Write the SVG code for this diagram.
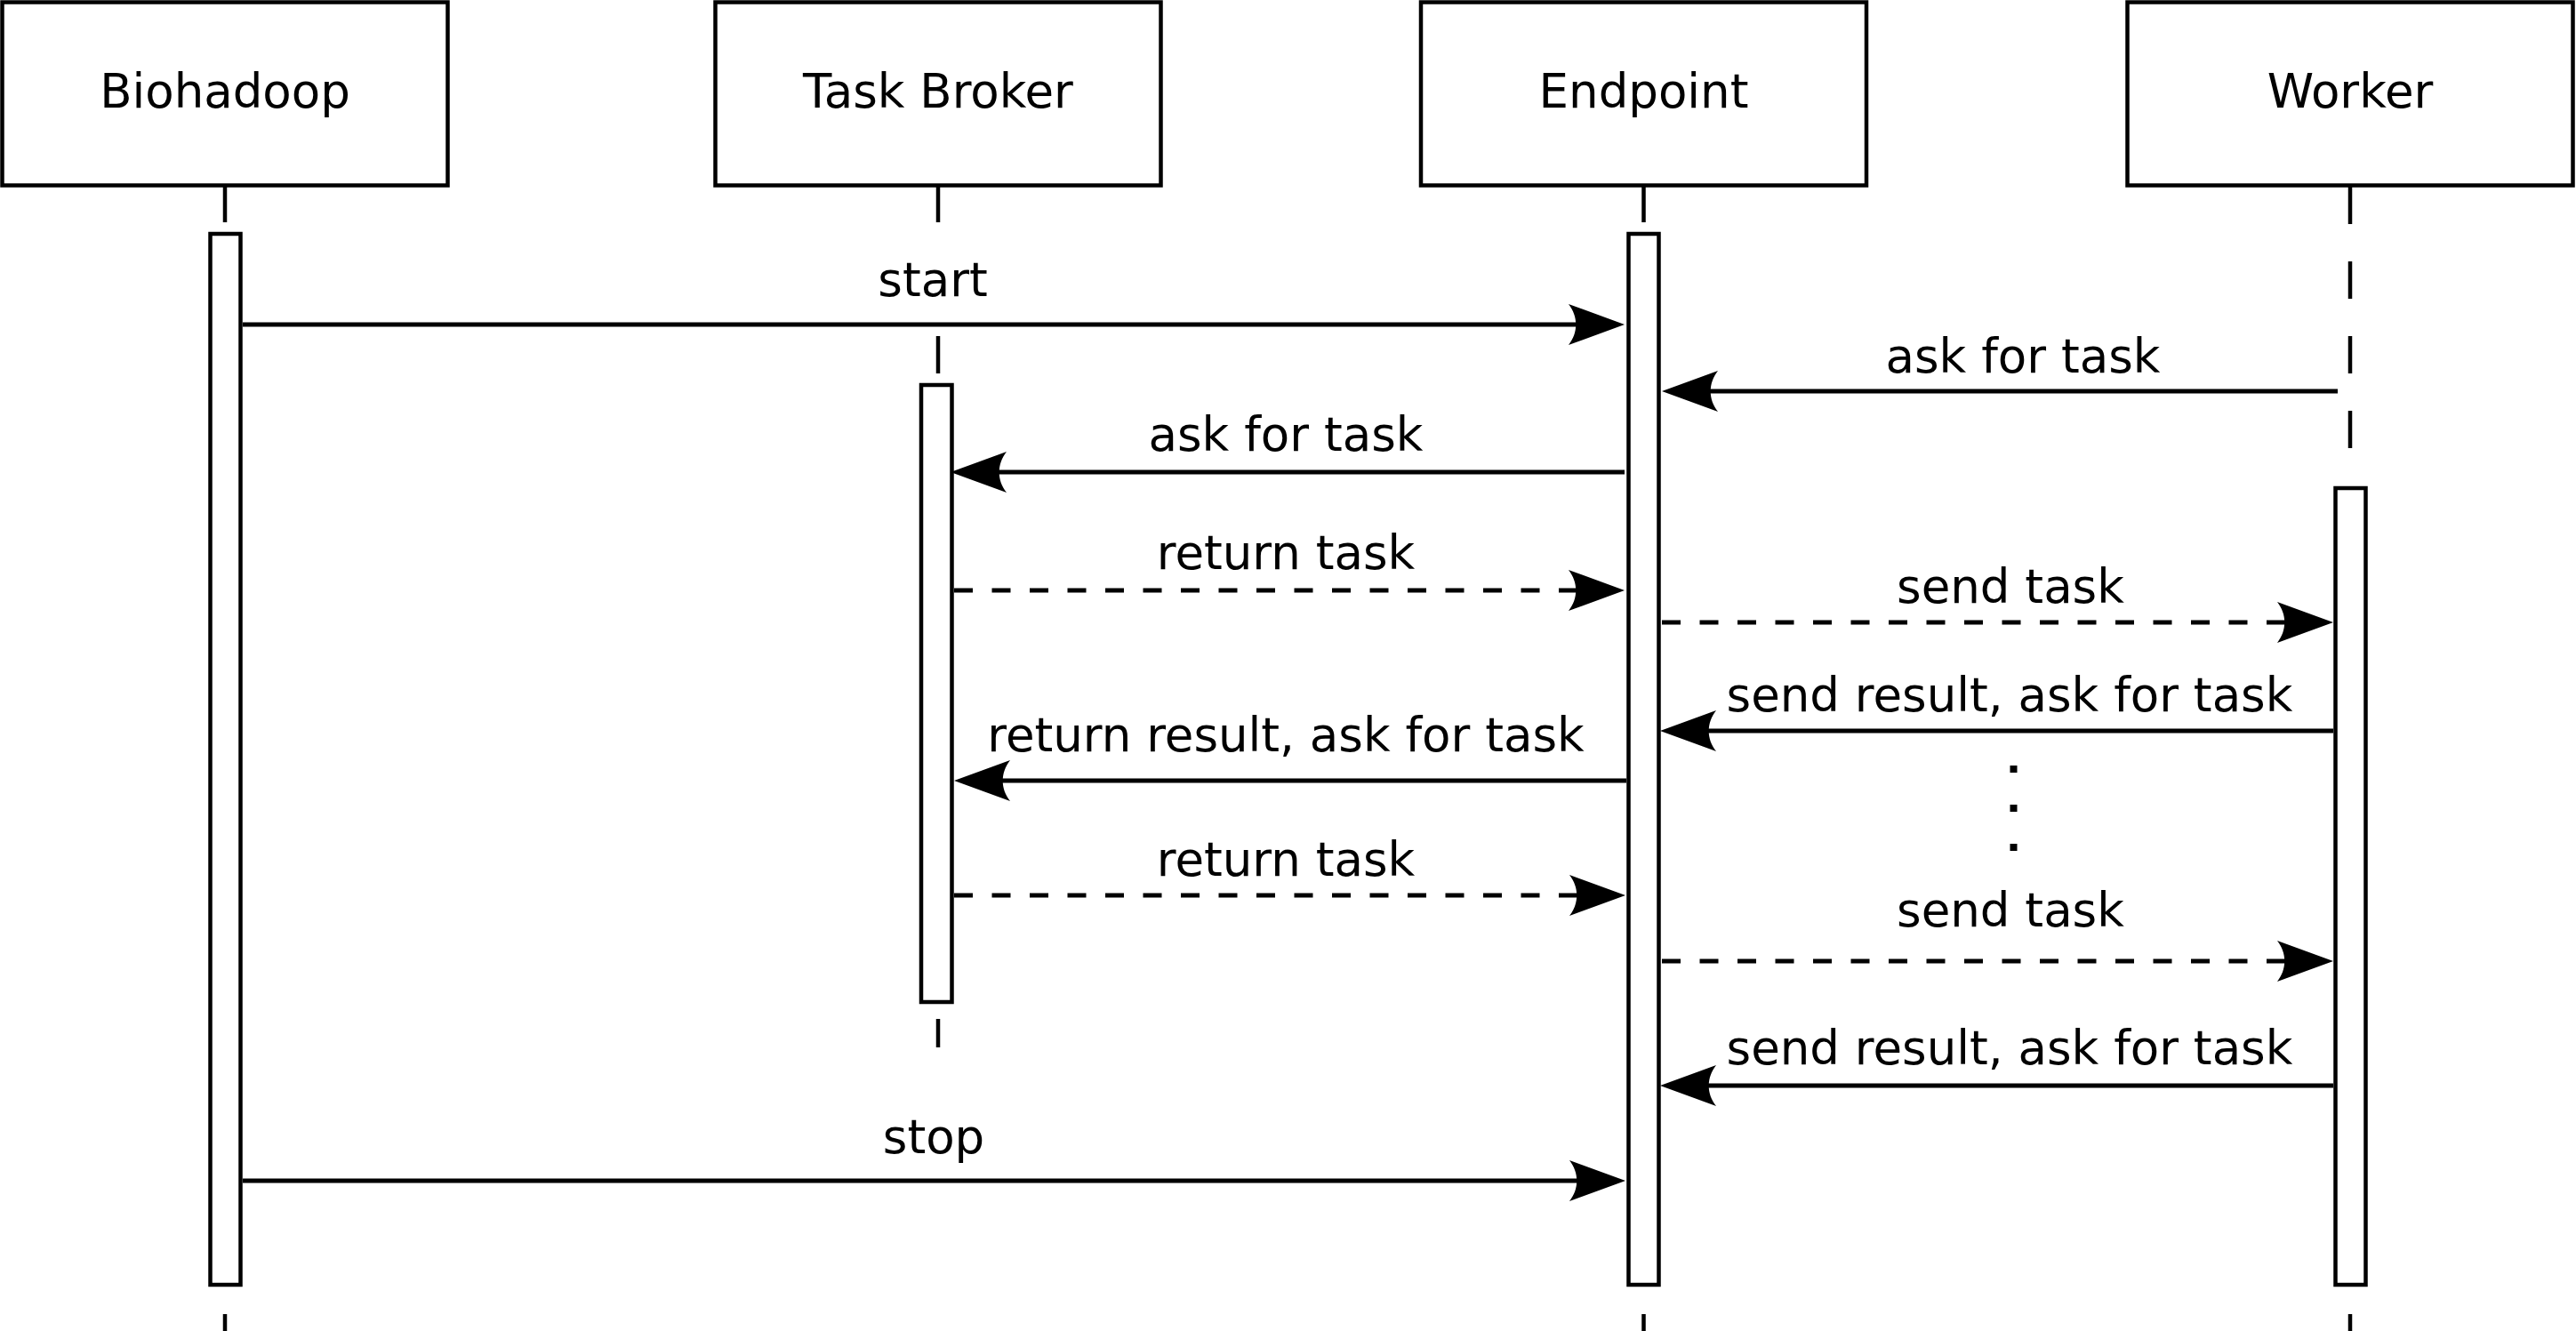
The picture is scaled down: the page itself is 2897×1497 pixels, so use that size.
<svg xmlns="http://www.w3.org/2000/svg" width="2897" height="1497" viewBox="0 0 2897 1497">
<style>
  .box { fill: #fff; stroke: #000; stroke-width: 4.5; }
  .act { fill: #fff; stroke: #000; stroke-width: 4.5; }
  .life { stroke: #000; stroke-width: 4.5; fill: none; }
  .msg { stroke: #000; stroke-width: 5; fill: none; marker-end: url(#ah); }
  .dash { stroke-dasharray: 21 21.5; }
  text { font-family: "DejaVu Sans", "Liberation Sans", sans-serif; font-size: 53px; fill: #000; text-anchor: middle; }
</style>
<defs>
  <marker id="ah" markerUnits="userSpaceOnUse" viewBox="-70 -30 80 60" markerWidth="80" markerHeight="60" refX="-50" refY="0" orient="auto" overflow="visible">
    <path d="M0,0 L-63,-23 C-52,-9 -52,9 -63,23 Z" fill="#000" stroke="none"/>
  </marker>
</defs>
<rect width="2897" height="1497" fill="#fff"/>

<g id="lifelines">
  <line class="life" x1="253" y1="210" x2="253" y2="250"/>
  <line class="life" x1="253" y1="1478" x2="253" y2="1500"/>
  <line class="life" x1="1055" y1="210" x2="1055" y2="250"/>
  <line class="life" x1="1055" y1="378" x2="1055" y2="420"/>
  <line class="life" x1="1055" y1="1146" x2="1055" y2="1178"/>
  <line class="life" x1="1848.5" y1="210" x2="1848.5" y2="250"/>
  <line class="life" x1="1848.5" y1="1478" x2="1848.5" y2="1500"/>
  <line class="life" x1="2643" y1="210" x2="2643" y2="252"/>
  <line class="life" x1="2643" y1="294" x2="2643" y2="336"/>
  <line class="life" x1="2643" y1="378" x2="2643" y2="420"/>
  <line class="life" x1="2643" y1="462" x2="2643" y2="504"/>
  <line class="life" x1="2643" y1="1478" x2="2643" y2="1500"/>
</g>

<g id="biohadoop">
  <rect class="box" x="2.5" y="2.5" width="501" height="206"/>
  <text x="253" y="121">Biohadoop</text>
  <rect class="act" x="236.5" y="263" width="34" height="1182"/>
</g>
<g id="task-broker">
  <rect class="box" x="804.5" y="2.5" width="501" height="206"/>
  <text x="1055" y="121">Task Broker</text>
  <rect class="act" x="1036" y="433" width="34.5" height="694"/>
</g>
<g id="endpoint">
  <rect class="box" x="1598" y="2.5" width="501" height="206"/>
  <text x="1848.5" y="121">Endpoint</text>
  <rect class="act" x="1831.5" y="263" width="34" height="1182"/>
</g>
<g id="worker">
  <rect class="box" x="2392.5" y="2.5" width="501" height="206"/>
  <text x="2643" y="121">Worker</text>
  <rect class="act" x="2626.5" y="549" width="34" height="896"/>
</g>

<g id="connectors">
  <line class="msg" x1="273" y1="365" x2="1777" y2="365"/>
  <text x="1049" y="333">start</text>

  <line class="msg" x1="2629" y1="440" x2="1919" y2="440"/>
  <text x="2275" y="419">ask for task</text>

  <line class="msg" x1="1827" y1="531" x2="1119" y2="531"/>
  <text x="1446" y="507">ask for task</text>

  <line class="msg dash" x1="1073" y1="664" x2="1777" y2="664"/>
  <text x="1446" y="640">return task</text>

  <line class="msg dash" x1="1869" y1="700" x2="2574" y2="700"/>
  <text x="2261" y="678">send task</text>

  <line class="msg" x1="2624" y1="822" x2="1917" y2="822"/>
  <text x="2260" y="800">send result, ask for task</text>

  <line class="msg" x1="1829" y1="878" x2="1123" y2="878"/>
  <text x="1446" y="845">return result, ask for task</text>

  <rect x="2260.5" y="861" width="8" height="8" fill="#000"/>
  <rect x="2260.5" y="905" width="8" height="8" fill="#000"/>
  <rect x="2260.5" y="949" width="8" height="8" fill="#000"/>

  <line class="msg dash" x1="1073" y1="1007" x2="1778" y2="1007"/>
  <text x="1446" y="985">return task</text>

  <line class="msg dash" x1="1869" y1="1081" x2="2574" y2="1081"/>
  <text x="2261" y="1042">send task</text>

  <line class="msg" x1="2624" y1="1221" x2="1917" y2="1221"/>
  <text x="2260" y="1197">send result, ask for task</text>

  <line class="msg" x1="273" y1="1328" x2="1778" y2="1328"/>
  <text x="1050" y="1297">stop</text>
</g>
</svg>
